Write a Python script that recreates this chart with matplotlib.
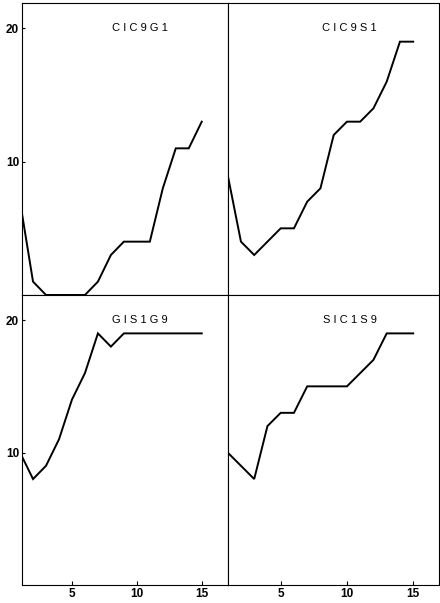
import matplotlib
matplotlib.use('Agg')
import matplotlib.pyplot as plt

plt.rcParams['font.family'] = ['Liberation Sans', 'DejaVu Sans']

# trial number along the bottom, shared by all four panels
trials = list(range(1, 16))

# scores per panel
cic9g1 = [7, 1, 0, 0, 0, 0, 1, 3, 4, 4, 4, 8, 11, 11, 13]
cic9s1 = [9, 4, 3, 4, 5, 5, 7, 8, 12, 13, 13, 14, 16, 19, 19]
gis1g9 = [10, 8, 9, 11, 14, 16, 19, 18, 19, 19, 19, 19, 19, 19, 19]
sic1s9 = [10, 9, 8, 12, 13, 13, 15, 15, 15, 15, 16, 17, 19, 19, 19]

titles = ['C I C 9 G 1', 'C I C 9 S 1', 'G I S 1 G 9', 'S I C 1 S 9']
series = [cic9g1, cic9s1, gis1g9, sic1s9]

y_ticks = [10, 20]
x_ticks = [5, 10, 15]

fig = plt.figure(figsize=(4.4, 6.03), dpi=100)

# panel boxes in figure fractions, panels butt against each other
left_x, left_w = 0.05, 0.4675
right_x, right_w = 0.5175, 0.480
top_y, top_h = 0.5108, 0.4842
bot_y, bot_h = 0.0299, 0.4809

boxes = [
    [left_x, top_y, left_w, top_h],
    [right_x, top_y, right_w, top_h],
    [left_x, bot_y, left_w, bot_h],
    [right_x, bot_y, right_w, bot_h],
]
xlims = [(1.15, 17.0), (1.0, 16.94), (1.15, 17.0), (1.0, 16.94)]

for i, (box, vals, title) in enumerate(zip(boxes, series, titles)):
    ax = fig.add_axes(box)
    ax.plot(trials, vals, color='black', lw=1.4, solid_joinstyle='miter')
    ax.set_xlim(*xlims[i])
    ax.set_ylim(0, 21.9)

    for side in ax.spines:
        ax.spines[side].set_linewidth(0.8)
        ax.spines[side].set_color('black')

    ax.text(10.2, 20, title, ha='center', va='center', fontsize=8)

    ax.set_xticks(x_ticks)
    ax.set_yticks(y_ticks)
    ax.tick_params(axis='x', direction='in', length=3, width=0.8, pad=2,
                   labelsize=8.5)
    ax.tick_params(axis='y', direction='in', length=2.5, width=0.8, pad=2,
                   labelsize=8.5)

    # only the outer edges carry labels
    if i in (0, 2):
        ax.set_yticklabels([str(t) for t in y_ticks], fontweight='bold')
    else:
        ax.set_yticklabels([])
        ax.tick_params(axis='y', length=0)
    if i in (2, 3):
        ax.set_xticklabels([str(t) for t in x_ticks], fontweight='bold')
    else:
        ax.set_xticklabels([])
        ax.tick_params(axis='x', length=0)

fig.savefig('out.png', dpi=100)
